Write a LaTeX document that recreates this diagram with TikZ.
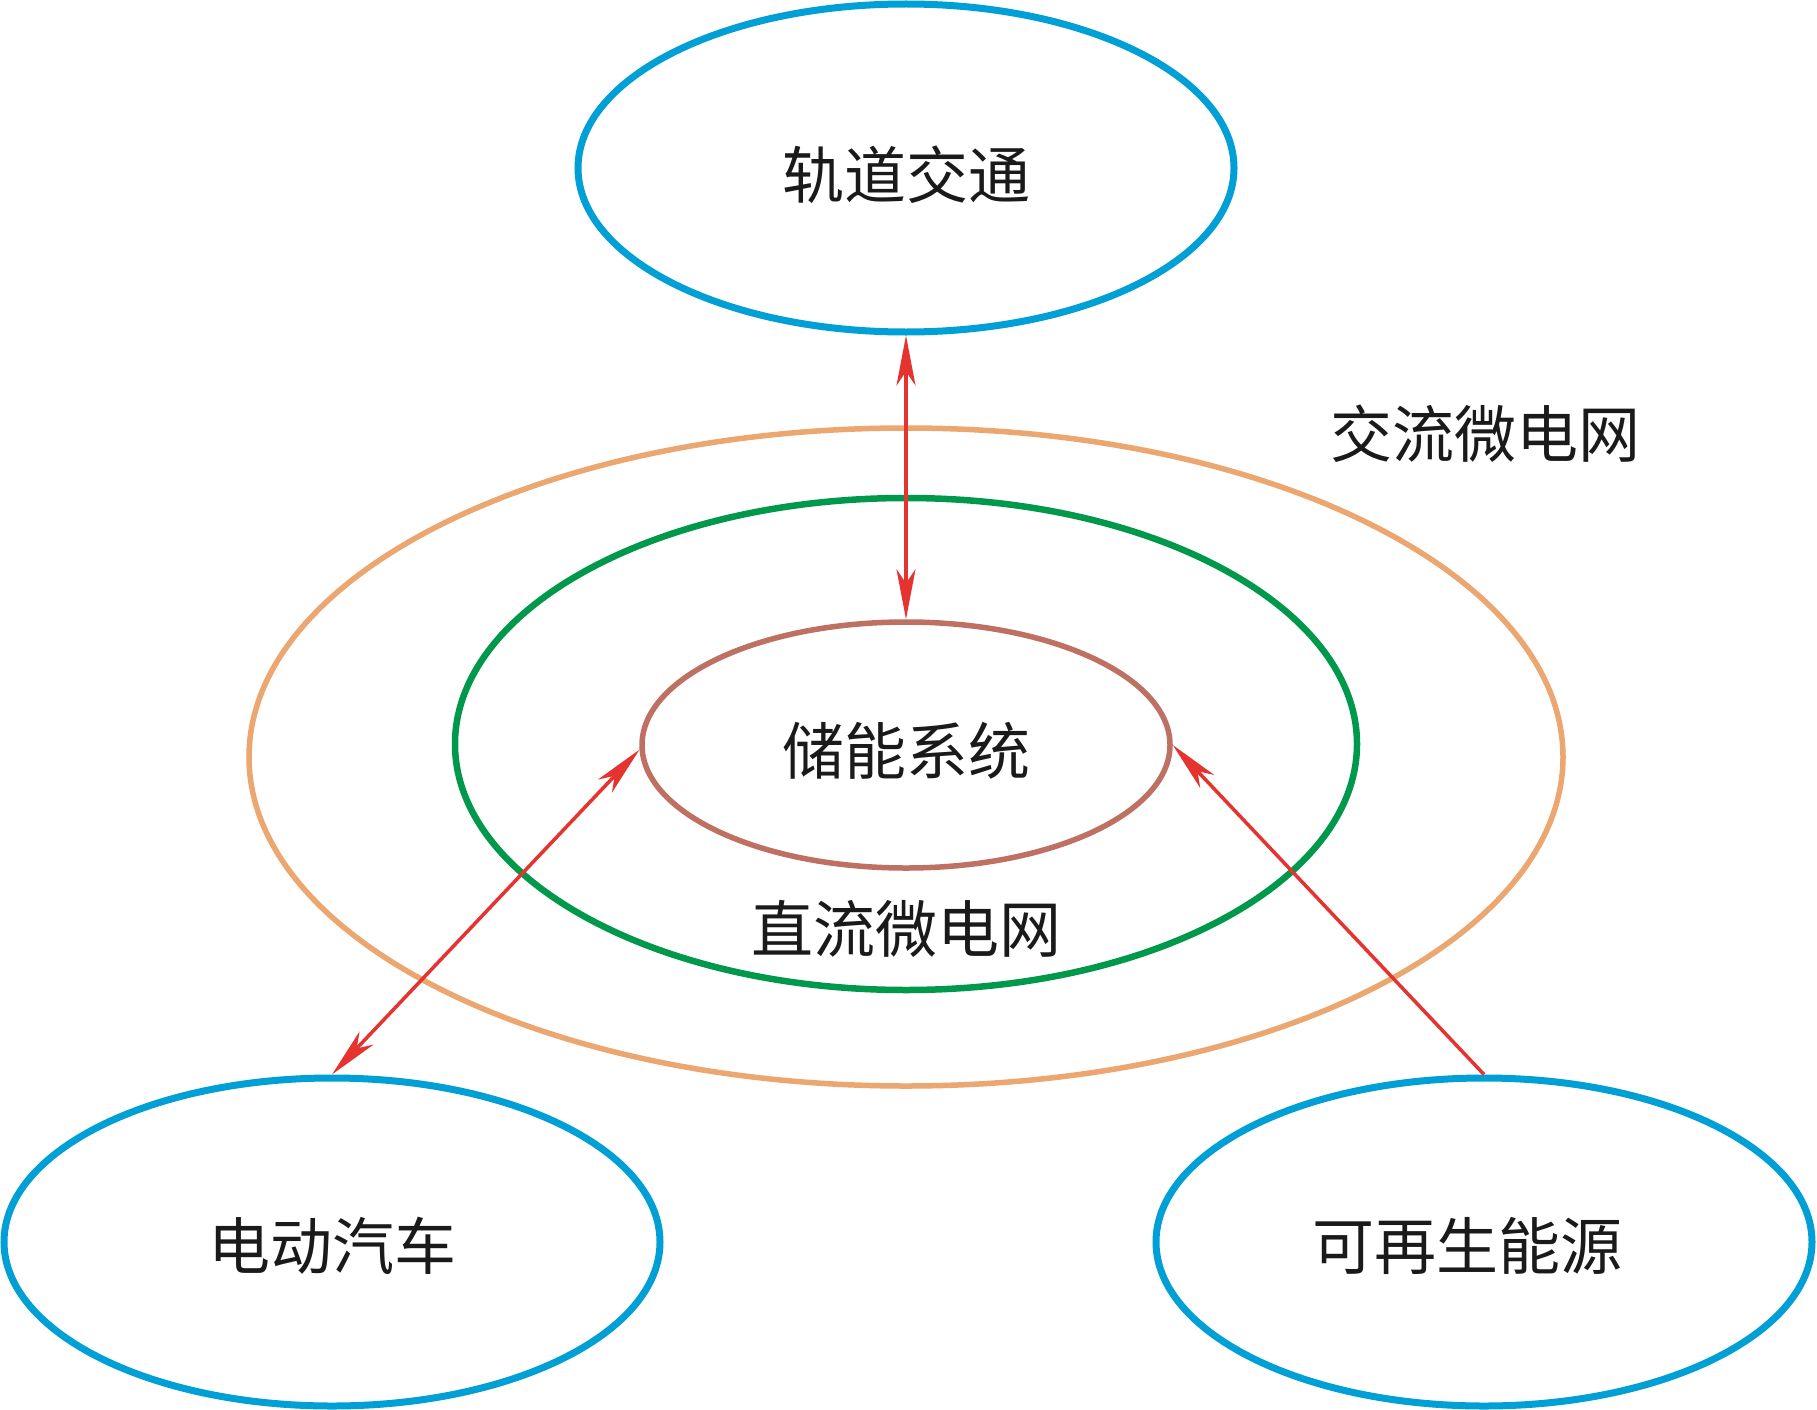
\documentclass[tikz,border=0pt]{standalone}
\usepackage{fontspec}
\newfontfamily\cjk{Noto Sans CJK SC}
\usetikzlibrary{shapes.geometric,arrows.meta}
\definecolor{cblue}{RGB}{0,160,214}
\definecolor{cgreen}{RGB}{0,152,74}
\definecolor{corange}{RGB}{236,166,112}
\definecolor{cbrown}{RGB}{190,112,98}
\definecolor{cred}{RGB}{229,51,47}
\definecolor{ctext}{RGB}{26,26,26}
\tikzset{
  ring/.style={ellipse, draw, inner sep=0pt},
  bluering/.style={ring, draw=cblue, line width=7pt, minimum width=656pt, minimum height=328pt},
  lbl/.style={font=\cjk\fontsize{62}{70}\selectfont, text=ctext, inner sep=0pt},
  link/.style={draw=cred, line width=3.5pt},
  tip/.style={Stealth[length=50pt,width=19pt,inset=14pt]}
}
\begin{document}
\begin{tikzpicture}[x=1pt,y=-1pt]
\useasboundingbox[fill=white] (0,0) rectangle (1817,1410);
\node[ring, draw=corange, line width=5.5pt, minimum width=1314pt, minimum height=658pt] (ac) at (906,757) {};
\node[ring, draw=cgreen, line width=6.5pt, minimum width=902pt, minimum height=492pt] (dc) at (906,744) {};
\node[ring, draw=cbrown, line width=5.5pt, minimum width=528pt, minimum height=246pt,
      label={[lbl,yshift=-6pt]center:储能系统}] (st) at (906,745) {};
\node[bluering, label={[lbl,yshift=-7pt]center:轨道交通}] (rail) at (906,168) {};
\node[bluering, label={[lbl,yshift=-4pt]center:电动汽车}] (ev) at (332,1242) {};
\node[bluering, label={[lbl,yshift=-4pt,xshift=-17pt]center:可再生能源}] (re) at (1484,1242) {};
\node[lbl] (aclbl) at (1485,434) {交流微电网};
\node[lbl] (dclbl) at (906,929) {直流微电网};
\draw[link, {Stealth[length=50pt,width=19pt,inset=14pt]}-{Stealth[length=50pt,width=19pt,inset=14pt]}] (rail.south) -- (st.north);
\draw[link, {Stealth[length=50pt,width=19pt,inset=14pt]}-{Stealth[length=50pt,width=19pt,inset=14pt]}] (st.181) -- (ev.north);
\draw[link, -{Stealth[length=50pt,width=19pt,inset=14pt]}] (re.north) -- (st.east);
\end{tikzpicture}
\end{document}
